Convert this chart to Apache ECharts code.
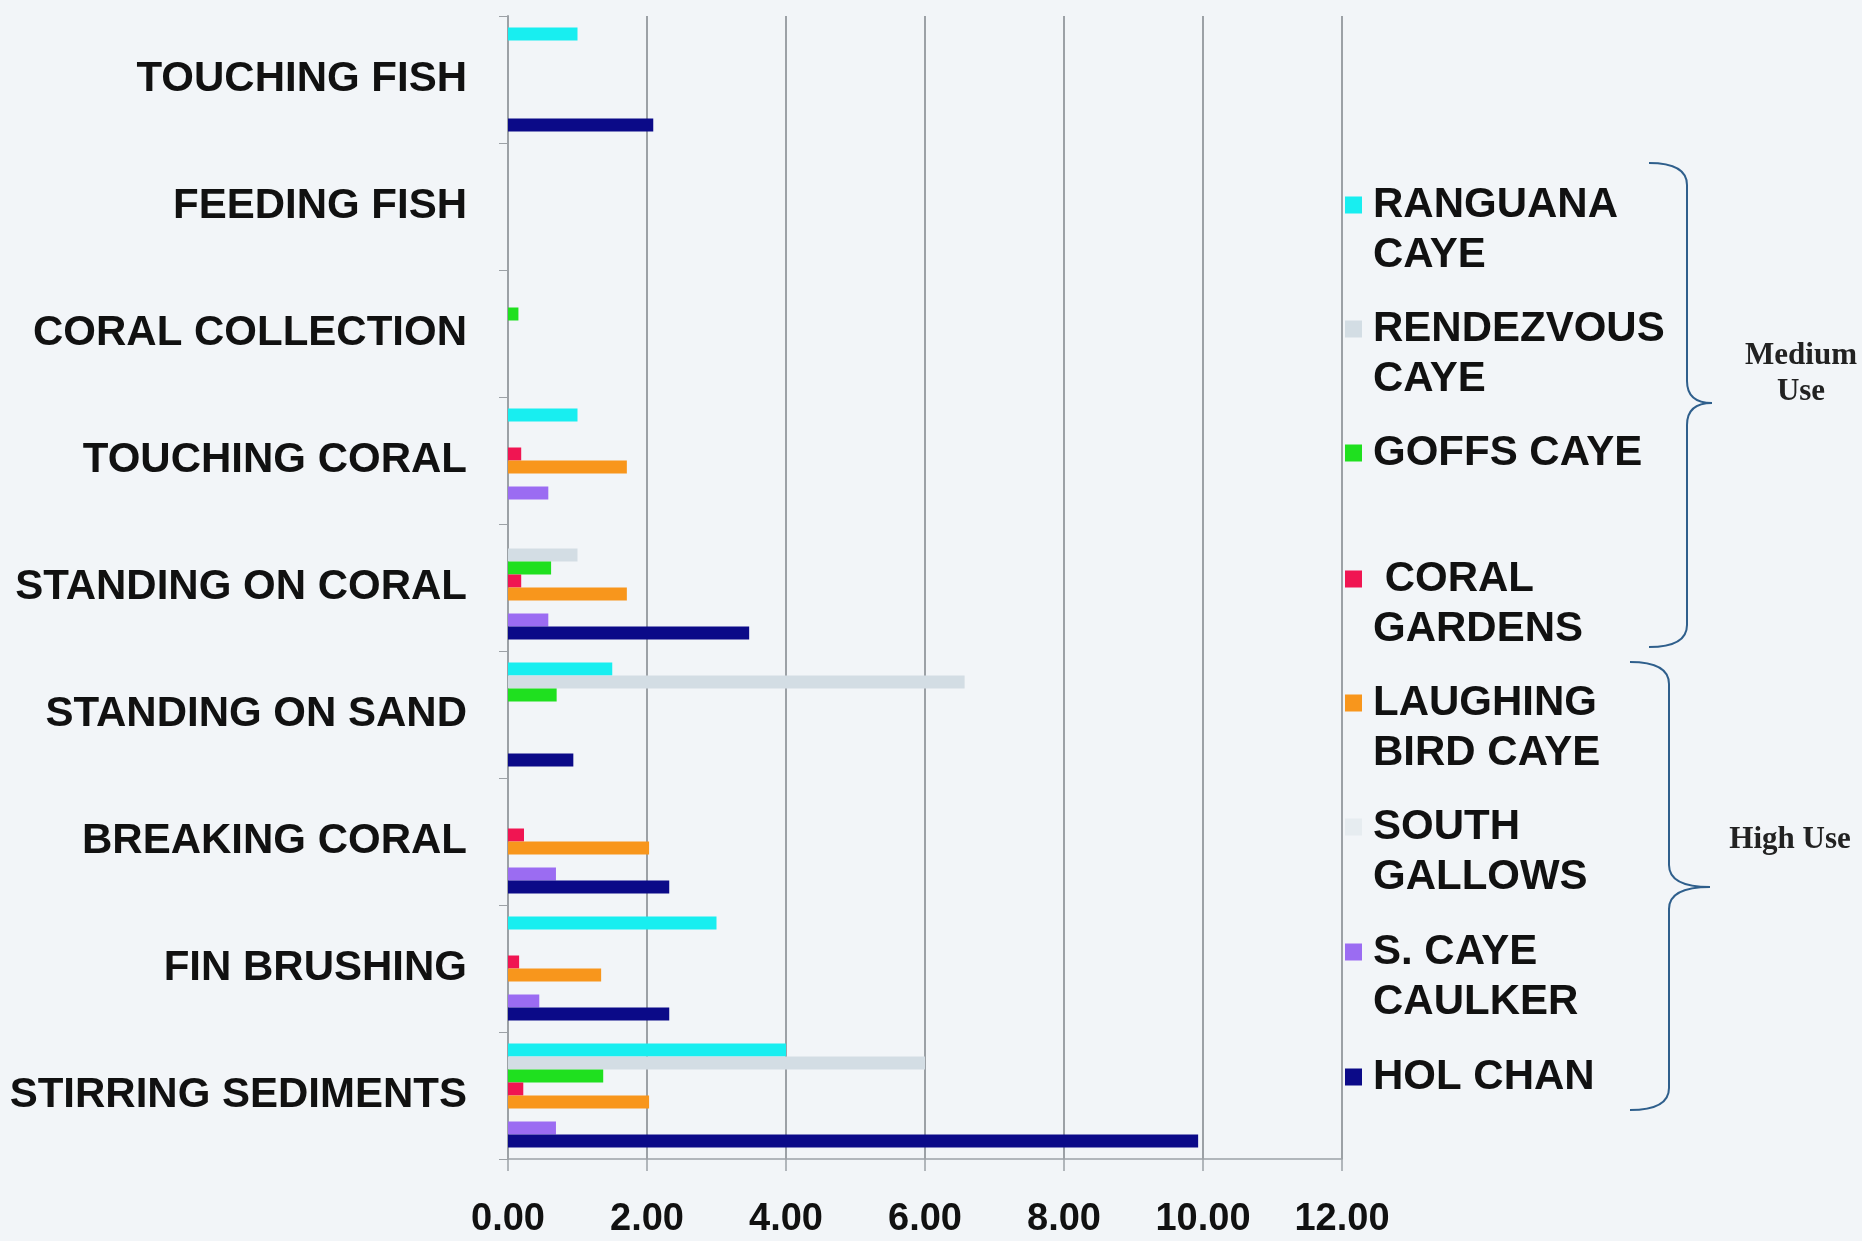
<!DOCTYPE html>
<html><head><meta charset="utf-8">
<script src="https://cdn.jsdelivr.net/npm/echarts@6/dist/echarts.min.js"></script>
<style>html,body{margin:0;padding:0;background:#f2f5f8}#c{width:1862px;height:1241px}</style>
</head><body><div id="c"></div>
<script>
const categories = ['TOUCHING FISH','FEEDING FISH','CORAL COLLECTION','TOUCHING CORAL','STANDING ON CORAL','STANDING ON SAND','BREAKING CORAL','FIN BRUSHING','STIRRING SEDIMENTS'];
const seriesNames = ['RANGUANA CAYE','RENDEZVOUS CAYE','GOFFS CAYE','CORAL GARDENS','LAUGHING BIRD CAYE','SOUTH GALLOWS','S. CAYE CAULKER','HOL CHAN'];
const legendLabels = ['RANGUANA\nCAYE','RENDEZVOUS\nCAYE','GOFFS CAYE',' CORAL\nGARDENS','LAUGHING\nBIRD CAYE','SOUTH\nGALLOWS','S. CAYE\nCAULKER','HOL CHAN'];
const xTicks = [0, 2, 4, 6, 8, 10, 12];

const ranguana     = [1.0, 0, 0,    1.0,  0,    1.5,  0,    3.0,  4.0];
const rendezvous   = [0,   0, 0,    0,    1.0,  6.57, 0,    0,    6.0];
const goffs        = [0,   0, 0.15, 0,    0.62, 0.7,  0,    0,    1.37];
const coralGardens = [0,   0, 0,    0.19, 0.19, 0,    0.23, 0.16, 0.22];
const laughingBird = [0,   0, 0,    1.71, 1.71, 0,    2.03, 1.34, 2.03];
const southGallows = [0,   0, 0,    0,    0,    0,    0,    0,    0];
const sCayeCaulker = [0,   0, 0,    0.58, 0.58, 0,    0.69, 0.45, 0.69];
const holChan      = [2.09,0, 0,    0,    3.47, 0.94, 2.32, 2.32, 9.93];

const seriesData = [ranguana, rendezvous, goffs, coralGardens, laughingBird, southGallows, sCayeCaulker, holChan];
const colors = ['#18eef0','#d3dde4','#1fe01f','#f01552','#f8961c','#e6ecf0','#9b6cf2','#0b0a88'];
const legendFirstLine = [205, 329, 453, 579, 703, 827, 952, 1077];

const FONT = '"Liberation Sans", Arial, sans-serif';
const SERIF = '"Liberation Serif", "Times New Roman", serif';
const GRID_COL = '#9ca1a6';
const LH = 50, SQ = 17;

const chart = echarts.init(document.getElementById('c'), null, {renderer: 'canvas'});

function brace(xHook, xStem, xTip, yT, yM, yB, r) {
  const st = {fill: 'none', stroke: '#2f5f8c', lineWidth: 2};
  return [
    {type: 'bezierCurve', shape: {x1: xHook, y1: yT, cpx1: xStem, cpy1: yT, x2: xStem, y2: yT + r}, style: st},
    {type: 'line', shape: {x1: xStem, y1: yT + r, x2: xStem, y2: yM - r}, style: st},
    {type: 'bezierCurve', shape: {x1: xStem, y1: yM - r, cpx1: xStem, cpy1: yM, x2: xTip, y2: yM}, style: st},
    {type: 'bezierCurve', shape: {x1: xTip, y1: yM, cpx1: xStem, cpy1: yM, x2: xStem, y2: yM + r}, style: st},
    {type: 'line', shape: {x1: xStem, y1: yM + r, x2: xStem, y2: yB - r}, style: st},
    {type: 'bezierCurve', shape: {x1: xStem, y1: yB - r, cpx1: xStem, cpy1: yB, x2: xHook, y2: yB}, style: st}
  ];
}

// square drawn at the top of a taller icon box so it lines up with the first text line
const tallIcon = 'path://M0,0L' + SQ + ',0L' + SQ + ',' + SQ + 'L0,' + SQ + 'Z M0,' + (SQ + LH) + 'L' + SQ + ',' + (SQ + LH);

const option = {
  backgroundColor: '#f2f5f8',
  animation: false,
  color: colors,
  grid: {left: 508, top: 16, right: 520, bottom: 82, containLabel: false},
  xAxis: {
    type: 'value', min: xTicks[0], max: xTicks[xTicks.length - 1], interval: 2,
    axisLine: {show: true, lineStyle: {color: GRID_COL, width: 1.5}},
    axisTick: {show: true, length: 12, lineStyle: {color: GRID_COL, width: 1.5}},
    splitLine: {show: true, lineStyle: {color: GRID_COL, width: 2}},
    axisLabel: {margin: 42, fontSize: 38, fontWeight: 'bold', color: '#111', fontFamily: FONT,
      formatter: v => v.toFixed(2)}
  },
  yAxis: {
    type: 'category', data: categories, inverse: true,
    axisLine: {show: true, lineStyle: {color: GRID_COL, width: 2}},
    axisTick: {show: true, length: 9, lineStyle: {color: GRID_COL, width: 1}},
    splitLine: {show: false},
    axisLabel: {margin: 41, fontSize: 42, fontWeight: 'bold', color: '#111', fontFamily: FONT}
  },
  legend: seriesNames.map((n, i) => {
    const two = legendLabels[i].indexOf('\n') >= 0;
    return {
      orient: 'vertical', left: 1345, top: legendFirstLine[i] - LH / 2, padding: 0,
      itemWidth: SQ, itemHeight: two ? SQ + LH : SQ, selectedMode: false,
      data: [{name: n, icon: two ? tallIcon : 'rect'}],
      formatter: () => legendLabels[i],
      textStyle: {fontFamily: FONT, fontWeight: 'bold', fontSize: 42, lineHeight: LH, color: '#111',
        padding: [0, 0, 0, 6]}
    };
  }),
  series: seriesNames.map((n, i) => ({
    name: n, type: 'bar', data: seriesData[i], barWidth: 13, barGap: '0%',
    itemStyle: {color: colors[i]}
  })),
  graphic: [].concat(
    brace(1649, 1687, 1712, 163, 403, 647, 22),
    brace(1630, 1669, 1710, 662, 887, 1110, 22),
    [
      {type: 'text', x: 1801, y: 374, style: {text: 'Medium\nUse', align: 'center', verticalAlign: 'middle',
        fontFamily: SERIF, fontWeight: 'bold', fontSize: 31, lineHeight: 36, fill: '#222'}},
      {type: 'text', x: 1790, y: 840, style: {text: 'High Use', align: 'center', verticalAlign: 'middle',
        fontFamily: SERIF, fontWeight: 'bold', fontSize: 31, fill: '#222'}}
    ]
  )
};
chart.setOption(option);
</script></body></html>
